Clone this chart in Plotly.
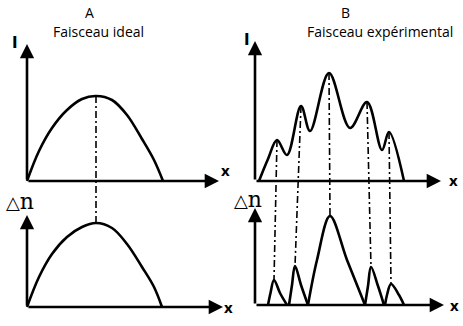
import plotly.graph_objects as go

# ---------------- data (units: pixels relative to each panel origin) ----------------
a_top_x = [0, 12, 25, 40, 55, 69, 85, 100, 115, 127, 136]
a_top_y = [0, 30, 53, 71, 82, 85, 81, 66, 42, 21, 0]

a_bot_x = [0, 12, 25, 40, 55, 69, 85, 100, 115, 127, 135]
a_bot_y = [0, 30, 53, 70, 80, 84, 79, 63, 40, 20, 0]

b_top_x = [4, 13, 22, 32, 46, 55, 74, 95, 112, 127, 134, 149]
b_top_y = [0, 22, 41, 26, 75, 50, 108, 53, 79, 31, 49, 0]

b_hump1_x = [13, 15.5, 19, 25, 32]
b_hump1_y = [0, 12, 25, 12, 0]
b_hump2_x = [34, 37, 40, 46, 53]
b_hump2_y = [0, 20, 39, 20, 0]
b_hump3_x = [53, 62, 75, 92, 110]
b_hump3_y = [0, 45, 89, 45, 0]
b_hump4_x = [110, 113, 116, 123, 129]
b_hump4_y = [0, 19, 38, 19, 0]
b_hump5_x = [130, 132, 136, 144, 149]
b_hump5_y = [0, 10, 21, 10, 0]

W, H = 463, 326
BLACK = "#000000"

# panel layout: origin in pixels, axis extents (tip of arrows)
panels = {
    "A_top": dict(origin=(27, 181), xlen=192, ylen=137),
    "A_bot": dict(origin=(27, 307), xlen=196, ylen=92),
    "B_top": dict(origin=(255, 181), xlen=186, ylen=140),
    "B_bot": dict(origin=(255, 305), xlen=189, ylen=97),
}
PAD = 6

fig = go.Figure()
layout_axes = {}
axis_ids = {}
for i, (name, p) in enumerate(panels.items(), start=1):
    ox, oy = p["origin"]
    xr = [-PAD, p["xlen"] + PAD]
    yr = [-PAD, p["ylen"] + PAD]
    xs = "" if i == 1 else str(i)
    axis_ids[name] = ("x" + xs, "y" + xs)
    layout_axes["xaxis" + xs] = dict(
        domain=[(ox + xr[0]) / W, (ox + xr[1]) / W], range=xr,
        anchor="y" + xs, visible=False, fixedrange=True)
    layout_axes["yaxis" + xs] = dict(
        domain=[1 - (oy - yr[0]) / H, 1 - (oy - yr[1]) / H], range=yr,
        anchor="x" + xs, visible=False, fixedrange=True)


def to_paper(name, x, y):
    p = panels[name]
    ox, oy = p["origin"]
    return (ox + x) / W, 1 - (oy - y) / H


def curve(name, xs, ys):
    xa, ya = axis_ids[name]
    fig.add_trace(go.Scatter(
        x=xs, y=ys, mode="lines", xaxis=xa, yaxis=ya,
        line=dict(color=BLACK, width=2.6, shape="spline", smoothing=1),
        hoverinfo="skip", showlegend=False))


curve("A_top", a_top_x, a_top_y)
curve("A_bot", a_bot_x, a_bot_y)
curve("B_top", b_top_x, b_top_y)
humps = [(b_hump1_x, b_hump1_y), (b_hump2_x, b_hump2_y), (b_hump3_x, b_hump3_y),
         (b_hump4_x, b_hump4_y), (b_hump5_x, b_hump5_y)]
for hx, hy in humps:
    curve("B_bot", hx, hy)

annotations = []
# axes with arrowheads
for name, p in panels.items():
    xa, ya = axis_ids[name]
    for tip in [(p["xlen"], 0), (0, p["ylen"])]:
        annotations.append(dict(
            x=tip[0], y=tip[1], ax=0, ay=0, xref=xa, yref=ya, axref=xa, ayref=ya,
            text="", showarrow=True, arrowhead=2, arrowsize=1.1, arrowwidth=2.6,
            arrowcolor=BLACK, standoff=0, startstandoff=0))

# dash-dot connectors from peaks of top curves to peaks of bottom curves
shapes = []
DASH = "7px,3px,2px,3px"


def connector(top_name, tx, ty, bot_name, bx, by):
    x0, y0 = to_paper(top_name, tx, ty)
    x1, y1 = to_paper(bot_name, bx, by)
    shapes.append(dict(type="line", xref="paper", yref="paper",
                       x0=x0, y0=y0, x1=x1, y1=y1,
                       line=dict(color=BLACK, width=1.6, dash=DASH)))


ia = a_top_y.index(max(a_top_y))
ib = a_bot_y.index(max(a_bot_y))
connector("A_top", a_top_x[ia], a_top_y[ia], "A_bot", a_bot_x[ib], a_bot_y[ib])

top_peaks = [(b_top_x[i], b_top_y[i]) for i in range(1, len(b_top_y) - 1)
             if b_top_y[i] > b_top_y[i - 1] and b_top_y[i] > b_top_y[i + 1]]
bot_peaks = []
for hx, hy in humps:
    k = hy.index(max(hy))
    bot_peaks.append((hx[k], hy[k]))
for (tx, ty), (bx, by) in zip(top_peaks, bot_peaks):
    connector("B_top", tx, ty, "B_bot", bx, by)

# texts
TXT_FONT = "Open Sans, sans-serif"


def label(px, py, text, size, family=TXT_FONT, color=BLACK):
    annotations.append(dict(x=px / W, y=1 - py / H, xref="paper", yref="paper",
                            text=text, showarrow=False, xanchor="center", yanchor="middle",
                            font=dict(size=size, family=family, color=color)))


label(89, 13, "A", 14)
label(98, 31, "Faisceau ideal", 14)
label(345, 13, "B", 14)
label(380, 31, "Faisceau expérimental", 14)
label(15, 43, "<b>I</b>", 15, family="DejaVu Sans")
label(247, 40, "<b>I</b>", 15, family="DejaVu Sans")
label(225, 170, "<b>x</b>", 15, family="Open Sans")
label(228, 307, "<b>x</b>", 15, family="Open Sans")
label(453, 180, "<b>x</b>", 15, family="Open Sans")
label(454, 305, "<b>x</b>", 15, family="Open Sans")
label(20, 201, "<span style='font-size:18px'>△</span>n", 22, family="DejaVu Serif")
label(248, 199, "<span style='font-size:18px'>△</span>n", 22, family="DejaVu Serif")

fig.update_layout(
    width=W, height=H, margin=dict(l=0, r=0, t=0, b=0),
    paper_bgcolor="white", plot_bgcolor="rgba(0,0,0,0)",
    showlegend=False, annotations=annotations, shapes=shapes, **layout_axes)

fig.write_html("out.html")
